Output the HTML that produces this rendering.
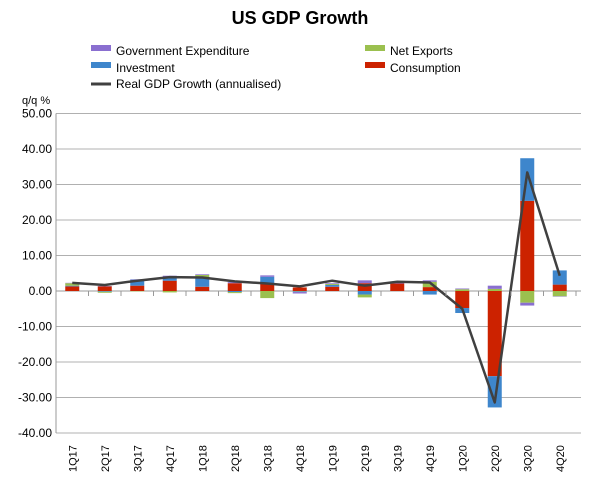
<!DOCTYPE html>
<html><head><meta charset="utf-8"><style>
body{margin:0;background:#fff;font-family:"Liberation Sans",Arial,sans-serif}
</style></head><body>
<svg id="c" width="600" height="479" xmlns="http://www.w3.org/2000/svg" font-family="Liberation Sans, Arial, sans-serif">
<text x="300" y="24" text-anchor="middle" font-size="18" font-weight="bold">US GDP Growth</text>
<g font-size="12">
<rect x="91" y="45" width="20" height="6" fill="#8a6fd0"/>
<text x="116" y="55">Government Expenditure</text>
<rect x="365" y="45" width="20" height="6" fill="#9bc04f"/>
<text x="390" y="55">Net Exports</text>
<rect x="91" y="62" width="20" height="6" fill="#3e86cc"/>
<text x="116" y="72">Investment</text>
<rect x="365" y="62" width="20" height="6" fill="#cc2200"/>
<text x="390" y="72">Consumption</text>
<line x1="91" y1="84" x2="111" y2="84" stroke="#404040" stroke-width="3"/>
<text x="116" y="88">Real GDP Growth (annualised)</text>
</g>
<text x="22" y="104" font-size="11">q/q %</text>
<g id="grid"></g><g id="bars"></g><g id="line"></g><g id="axes"></g>
</svg>
<script>
const categories=["1Q17","2Q17","3Q17","4Q17","1Q18","2Q18","3Q18","4Q18","1Q19","2Q19","3Q19","4Q19","1Q20","2Q20","3Q20","4Q20"];
const consumption=[1.3,1.3,1.5,2.9,1.2,2.2,2.1,1.0,1.2,2.2,2.1,1.1,-4.8,-24,25.4,1.8];
const investment=[0.2,-0.2,1.7,1.0,2.7,-0.3,1.9,-0.2,0.5,-1.0,0.0,-1.0,-1.4,-8.8,12.0,4.0];
const government=[0.1,0.1,0.1,0.4,0.2,0.3,0.4,-0.4,0.2,0.8,0.4,0.4,0.2,0.9,-0.8,-0.1];
const netExports=[0.7,-0.3,-0.1,-0.4,0.6,-0.3,-2.0,-0.1,0.3,-0.8,0,1.5,0.5,0.6,-3.3,-1.5];
const gdp=[2.3,1.7,2.9,3.9,3.8,2.7,2.1,1.3,2.9,1.5,2.6,2.4,-5.0,-31.4,33.4,4.3];
const yTicks=[50,40,30,20,10,0,-10,-20,-30,-40];
const NS="http://www.w3.org/2000/svg";
const L=56,R=576,Y0=291,PX=3.55;
const step=(R-L)/categories.length;
const y=v=>Y0-v*PX, x=i=>L+step*(i+0.5);
function mk(t,a,p){const e=document.createElementNS(NS,t);for(const k in a)e.setAttribute(k,a[k]);p.appendChild(e);return e;}
const grid=document.getElementById('grid'),axes=document.getElementById('axes'),bars=document.getElementById('bars'),line=document.getElementById('line');
yTicks.forEach(v=>{
 const g=mk('line',{x1:L,x2:R+5,y1:y(v),y2:y(v),stroke:v===0?'#999':'#b0b0b0','stroke-width':1},grid);
 
 
 const t=mk('text',{x:52,y:y(v)+4,'text-anchor':'end','font-size':12},axes);
 t.textContent=v.toFixed(2);
 
 
});
mk('line',{x1:L,x2:L,y1:y(50),y2:y(-40),stroke:'#999'},axes);
const series=[[consumption,'#cc2200','consumption'],[investment,'#3e86cc','investment'],[netExports,'#9bc04f','net-exports'],[government,'#8a6fd0','government']];
categories.forEach((c,i)=>{
 let pos=0,neg=0;
 series.forEach(([arr,col,nm])=>{
  const v=arr[i];let top,h;
  if(v>=0){top=y(pos+v);h=v*PX;pos+=v;}else{top=y(neg);h=-v*PX;neg+=v;}
  const r=mk('rect',{x:x(i)-7,y:top,width:14,height:Math.max(h,0),fill:col},bars);
  
  
 });
 const tk=mk('line',{x1:L+step*(i+1),x2:L+step*(i+1),y1:Y0,y2:Y0+5,stroke:'#999'},axes);
 const t=mk('text',{transform:`translate(${x(i)+4},472) rotate(-90)`,'font-size':11},axes);
 t.textContent=c;
 
 
});
const p=mk('polyline',{points:gdp.map((v,i)=>x(i)+','+y(v)).join(' '),fill:'none',stroke:'#404040','stroke-width':2.5,'stroke-linejoin':'round'},line);


</script>
</body></html>
